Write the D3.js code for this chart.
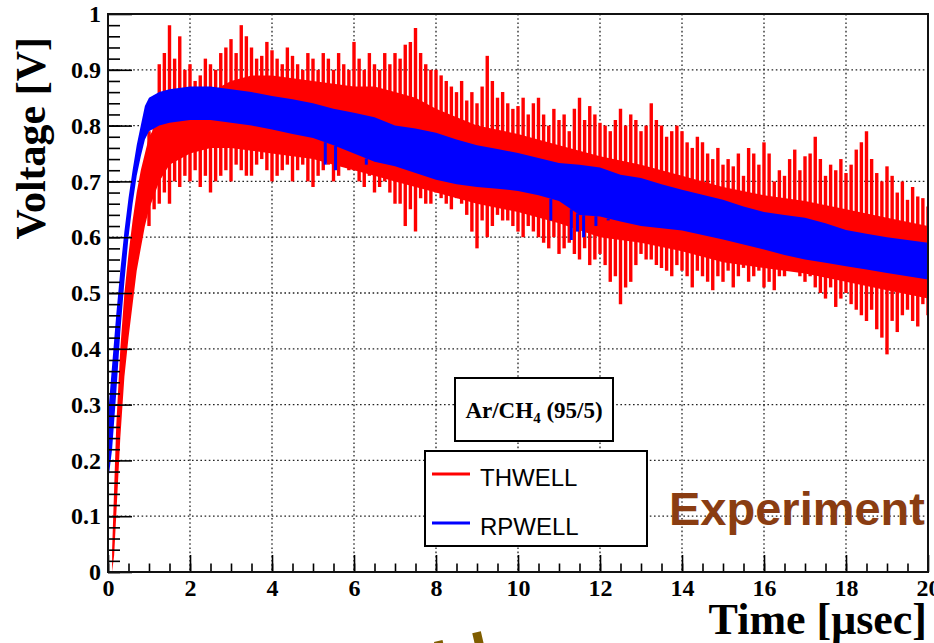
<!DOCTYPE html>
<html><head><meta charset="utf-8">
<script src="https://cdn.jsdelivr.net/npm/d3@7"></script>
<style>body{margin:0;background:#fff}svg{display:block}</style>
</head><body>
<svg id="c" width="934" height="643"></svg>
<script>
// ---------------- data ----------------
const xTicks = [0, 2, 4, 6, 8, 10, 12, 14, 16, 18, 20];
const yTicks = [0, 0.1, 0.2, 0.3, 0.4, 0.5, 0.6, 0.7, 0.8, 0.9, 1];

// RPWELL (blue) band: time, lower and upper edge
const blueT  = [0, 0.1, 0.2, 0.3, 0.4, 0.5, 0.6, 0.7, 0.8, 0.9, 1.0, 1.25, 1.5, 2.0, 2.5, 3.0, 3.5, 4.0, 4.5, 5.0, 5.5, 6.0, 6.5, 7.0, 7.5, 8.0, 8.5, 9.0, 9.5, 10.0, 10.5, 11.0, 11.5, 12.0, 12.5, 13.0, 13.5, 14.0, 14.5, 15.0, 15.5, 16.0, 16.5, 17.0, 17.5, 18.0, 18.5, 19.0, 19.5, 20.0];
const blueLo = [0.16, 0.22, 0.32, 0.43, 0.52, 0.60, 0.66, 0.71, 0.745, 0.775, 0.79, 0.80, 0.805, 0.81, 0.81, 0.805, 0.80, 0.793, 0.785, 0.778, 0.765, 0.75, 0.735, 0.727, 0.715, 0.703, 0.695, 0.69, 0.687, 0.683, 0.675, 0.665, 0.64, 0.637, 0.628, 0.62, 0.616, 0.612, 0.604, 0.596, 0.587, 0.578, 0.568, 0.56, 0.554, 0.548, 0.542, 0.536, 0.53, 0.524];
const blueHi = [0.28, 0.37, 0.46, 0.54, 0.61, 0.67, 0.72, 0.765, 0.80, 0.835, 0.85, 0.86, 0.865, 0.87, 0.87, 0.865, 0.86, 0.853, 0.847, 0.84, 0.83, 0.823, 0.815, 0.80, 0.795, 0.787, 0.775, 0.765, 0.758, 0.751, 0.742, 0.733, 0.73, 0.725, 0.712, 0.706, 0.695, 0.685, 0.676, 0.667, 0.655, 0.645, 0.64, 0.635, 0.625, 0.613, 0.606, 0.60, 0.595, 0.59];
// occasional downward blue excursions
const blueSpikeT  = [5.3, 5.55, 6.3, 10.8, 11.3, 11.45, 11.6, 11.9, 12.2];
const blueSpikeLo = [0.73, 0.72, 0.73, 0.63, 0.595, 0.61, 0.60, 0.62, 0.63];

// THWELL (red) dense core band
const redCoreT  = [0.10, 0.15, 0.2, 0.25, 0.3, 0.4, 0.5, 0.6, 0.7, 0.8, 0.9, 1.0, 1.25, 1.5, 2.0, 2.5, 3.0, 3.5, 4.0, 4.5, 5.0, 5.5, 6.0, 6.5, 7.0, 7.5, 8.0, 9.0, 10.0, 11.0, 12.0, 13.0, 14.0, 15.0, 16.0, 17.0, 18.0, 19.0, 20.0];
const redCoreLo = [0.00, 0.03, 0.10, 0.17, 0.24, 0.35, 0.42, 0.48, 0.54, 0.58, 0.62, 0.65, 0.70, 0.73, 0.75, 0.76, 0.76, 0.755, 0.75, 0.745, 0.74, 0.73, 0.72, 0.71, 0.70, 0.69, 0.68, 0.66, 0.645, 0.625, 0.60, 0.59, 0.575, 0.555, 0.545, 0.535, 0.52, 0.505, 0.49];
const redCoreHi = [0.04, 0.15, 0.26, 0.33, 0.40, 0.50, 0.57, 0.63, 0.68, 0.72, 0.75, 0.78, 0.81, 0.83, 0.85, 0.86, 0.88, 0.89, 0.89, 0.885, 0.88, 0.875, 0.87, 0.87, 0.86, 0.85, 0.83, 0.80, 0.785, 0.765, 0.745, 0.73, 0.71, 0.69, 0.675, 0.665, 0.65, 0.635, 0.62];

// THWELL (red) scatter extremes, main spikes
const spikeT  = [1.0, 1.25, 1.5, 1.75, 2.0, 2.25, 2.5, 2.75, 3.0, 3.25, 3.5, 3.75, 4.0, 4.25, 4.5, 4.75, 5.0, 5.25, 5.5, 5.75, 6.0, 6.25, 6.5, 6.75, 7.0, 7.25, 7.5, 7.75, 8.0, 8.25, 8.5, 8.75, 9.0, 9.25, 9.5, 9.75, 10.0, 10.25, 10.5, 10.75, 11.0, 11.25, 11.5, 11.75, 12.0, 12.25, 12.5, 12.75, 13.0, 13.25, 13.5, 13.75, 14.0, 14.25, 14.5, 14.75, 15.0, 15.25, 15.5, 15.75, 16.0, 16.25, 16.5, 16.75, 17.0, 17.25, 17.5, 17.75, 18.0, 18.25, 18.5, 18.75, 19.0, 19.25, 19.5, 19.75, 20.0];
const spikeHi = [0.79, 0.91, 0.98, 0.96, 0.91, 0.89, 0.91, 0.93, 0.955, 0.98, 0.94, 0.925, 0.935, 0.91, 0.925, 0.90, 0.92, 0.93, 0.90, 0.91, 0.95, 0.90, 0.91, 0.93, 0.93, 0.945, 0.975, 0.91, 0.90, 0.88, 0.86, 0.845, 0.84, 0.925, 0.85, 0.84, 0.835, 0.82, 0.85, 0.80, 0.81, 0.79, 0.85, 0.835, 0.805, 0.79, 0.83, 0.82, 0.79, 0.84, 0.80, 0.79, 0.79, 0.76, 0.77, 0.74, 0.73, 0.727, 0.71, 0.75, 0.77, 0.70, 0.71, 0.757, 0.745, 0.78, 0.71, 0.72, 0.715, 0.757, 0.79, 0.715, 0.727, 0.68, 0.667, 0.673, 0.655];
const spikeLo = [0.62, 0.66, 0.66, 0.69, 0.70, 0.69, 0.68, 0.71, 0.70, 0.72, 0.71, 0.74, 0.70, 0.72, 0.70, 0.73, 0.69, 0.72, 0.70, 0.74, 0.72, 0.69, 0.68, 0.70, 0.66, 0.62, 0.61, 0.66, 0.68, 0.66, 0.67, 0.64, 0.58, 0.60, 0.64, 0.63, 0.61, 0.62, 0.60, 0.58, 0.57, 0.59, 0.56, 0.55, 0.57, 0.52, 0.48, 0.52, 0.57, 0.56, 0.545, 0.53, 0.54, 0.51, 0.53, 0.505, 0.52, 0.51, 0.545, 0.53, 0.51, 0.505, 0.53, 0.55, 0.52, 0.51, 0.49, 0.475, 0.50, 0.47, 0.45, 0.435, 0.39, 0.43, 0.47, 0.44, 0.46];

// THWELL (red) scatter, in-between spikes
const spike2T  = [1.125, 1.375, 1.625, 1.875, 2.125, 2.375, 2.625, 2.875, 3.125, 3.375, 3.625, 3.875, 4.125, 4.375, 4.625, 4.875, 5.125, 5.375, 5.625, 5.875, 6.125, 6.375, 6.625, 6.875, 7.125, 7.375, 7.625, 7.875, 8.125, 8.375, 8.625, 8.875, 9.125, 9.375, 9.625, 9.875, 10.125, 10.375, 10.625, 10.875, 11.125, 11.375, 11.625, 11.875, 12.125, 12.375, 12.625, 12.875, 13.125, 13.375, 13.625, 13.875, 14.125, 14.375, 14.625, 14.875, 15.125, 15.375, 15.625, 15.875, 16.125, 16.375, 16.625, 16.875, 17.125, 17.375, 17.625, 17.875, 18.125, 18.375, 18.625, 18.875, 19.125, 19.375, 19.625, 19.875];
const spike2Hi = [0.85, 0.93, 0.92, 0.90, 0.88, 0.92, 0.90, 0.94, 0.93, 0.96, 0.92, 0.95, 0.92, 0.94, 0.91, 0.93, 0.90, 0.92, 0.93, 0.90, 0.92, 0.93, 0.90, 0.91, 0.92, 0.95, 0.93, 0.90, 0.89, 0.87, 0.88, 0.86, 0.87, 0.88, 0.86, 0.83, 0.85, 0.84, 0.82, 0.83, 0.82, 0.83, 0.81, 0.82, 0.80, 0.81, 0.80, 0.81, 0.80, 0.81, 0.78, 0.80, 0.77, 0.78, 0.75, 0.76, 0.74, 0.75, 0.76, 0.73, 0.75, 0.72, 0.74, 0.72, 0.75, 0.74, 0.73, 0.74, 0.73, 0.77, 0.74, 0.70, 0.71, 0.70, 0.69, 0.67];
const spike2Lo = [0.65, 0.68, 0.70, 0.71, 0.72, 0.71, 0.70, 0.72, 0.73, 0.71, 0.73, 0.72, 0.71, 0.73, 0.72, 0.70, 0.71, 0.73, 0.71, 0.72, 0.70, 0.71, 0.69, 0.68, 0.66, 0.65, 0.67, 0.66, 0.67, 0.65, 0.66, 0.61, 0.63, 0.62, 0.63, 0.62, 0.60, 0.61, 0.59, 0.60, 0.58, 0.57, 0.58, 0.56, 0.55, 0.53, 0.51, 0.55, 0.56, 0.55, 0.54, 0.55, 0.53, 0.54, 0.52, 0.53, 0.54, 0.53, 0.52, 0.54, 0.52, 0.53, 0.54, 0.53, 0.53, 0.50, 0.51, 0.49, 0.48, 0.46, 0.47, 0.42, 0.45, 0.46, 0.45, 0.48];

const seriesNames = ["THWELL", "RPWELL"];
const seriesColors = ["#ff0000", "#0000ff"];

// ---------------- drawing ----------------
const svg = d3.select("#c");
const L = 108, R = 928, T = 14, B = 572;
const x = d3.scaleLinear().domain([0, 20]).range([L, R]);
const y = d3.scaleLinear().domain([0, 1]).range([B, T]);
const serif = "'Liberation Serif','Times New Roman',serif";
const sans = "'Liberation Sans',Arial,Helvetica,sans-serif";

svg.append("rect").attr("width", 934).attr("height", 643).attr("fill", "#fff");

svg.append("clipPath").attr("id", "clip").append("rect")
  .attr("x", L).attr("y", T).attr("width", R - L).attr("height", B - T);

// grid
const grid = svg.append("g").attr("stroke", "#222").attr("stroke-width", 1.3)
  .attr("stroke-dasharray", "1.6,2.6");
grid.selectAll("line.v").data(xTicks.slice(1, -1)).join("line")
  .attr("x1", d => x(d)).attr("x2", d => x(d)).attr("y1", T).attr("y2", B);
grid.selectAll("line.h").data(yTicks.slice(1, -1)).join("line").attr("class", "h")
  .attr("x1", L).attr("x2", R).attr("y1", d => y(d)).attr("y2", d => y(d));

// data
const plot = svg.append("g").attr("clip-path", "url(#clip)");
const redCore = redCoreT.map((t, i) => ({t, lo: redCoreLo[i], hi: redCoreHi[i]}));
plot.append("path").datum(redCore)
  .attr("fill", seriesColors[0])
  .attr("d", d3.area().x(d => x(d.t)).y0(d => y(d.lo)).y1(d => y(d.hi)));
const spikes = spikeT.map((t, i) => ({t, lo: spikeLo[i], hi: spikeHi[i]}))
  .concat(spike2T.map((t, i) => ({t, lo: spike2Lo[i], hi: spike2Hi[i]})));
plot.append("g").attr("stroke", seriesColors[0]).attr("stroke-width", 3.4)
  .selectAll("line").data(spikes).join("line")
  .attr("x1", d => x(d.t)).attr("x2", d => x(d.t))
  .attr("y1", d => y(d.lo)).attr("y2", d => y(d.hi));

const blue = blueT.map((t, i) => ({t, lo: blueLo[i], hi: blueHi[i]}));
plot.append("path").datum(blue)
  .attr("fill", seriesColors[1])
  .attr("d", d3.area().x(d => x(d.t)).y0(d => y(d.lo)).y1(d => y(d.hi)));
const blueLoAt = d3.scaleLinear().domain(blueT).range(blueLo);
plot.append("g").attr("stroke", seriesColors[1]).attr("stroke-width", 3)
  .selectAll("line").data(blueSpikeT.map((t, i) => ({t, lo: blueSpikeLo[i]}))).join("line")
  .attr("x1", d => x(d.t)).attr("x2", d => x(d.t))
  .attr("y1", d => y(d.lo)).attr("y2", d => y(blueLoAt(d.t)));

// axes
function styleAxis(g) {
  g.select(".domain").remove();
  g.selectAll(".tick line").attr("stroke", "#000").attr("stroke-width", 1.6);
  g.selectAll(".tick text").attr("font-family", serif).attr("font-weight", "bold")
    .attr("font-size", 24).attr("fill", "#000");
}
const yMinor = d3.range(0, 50).map(i => i / 50);
const xMinor = d3.range(0, 40).map(i => i / 2);
svg.append("g").attr("transform", `translate(${L},0)`)
  .call(d3.axisLeft(y).tickValues(yMinor).tickSize(-12).tickFormat(""))
  .call(styleAxis);
svg.append("g").attr("transform", `translate(${L},0)`)
  .call(d3.axisLeft(y).tickValues(yTicks).tickSize(-24).tickPadding(7)
    .tickFormat(d => d === 0 ? "0" : d === 1 ? "1" : d3.format(".1f")(d)))
  .call(styleAxis);
svg.append("g").attr("transform", `translate(0,${B})`)
  .call(d3.axisBottom(x).tickValues(xMinor).tickSize(-8.5).tickFormat(""))
  .call(styleAxis);
svg.append("g").attr("transform", `translate(0,${B})`)
  .call(d3.axisBottom(x).tickValues(xTicks).tickSize(-17).tickPadding(7)
    .tickFormat(d3.format("d")))
  .call(styleAxis);

// frame
svg.append("rect").attr("x", L).attr("y", T).attr("width", R - L).attr("height", B - T)
  .attr("fill", "none").attr("stroke", "#111").attr("stroke-width", 2);

// axis titles
svg.append("text").attr("transform", "translate(45,37) rotate(-90)")
  .attr("text-anchor", "end").attr("font-family", serif).attr("font-weight", "bold")
  .attr("font-size", 42).text("Voltage [V]");
svg.append("text").attr("x", 927).attr("y", 634)
  .attr("text-anchor", "end").attr("font-family", serif).attr("font-weight", "bold")
  .attr("font-size", 44).text("Time [\u03bcsec]");

// gas label box
svg.append("rect").attr("x", 455).attr("y", 378).attr("width", 158).attr("height", 63)
  .attr("fill", "#fff").attr("stroke", "#000").attr("stroke-width", 2);
const gas = svg.append("text").attr("x", 534).attr("y", 418).attr("text-anchor", "middle")
  .attr("font-family", serif).attr("font-weight", "bold").attr("font-size", 23);
gas.append("tspan").text("Ar/CH");
gas.append("tspan").attr("font-size", 15).attr("dy", 5).text("4");
gas.append("tspan").attr("dy", -5).text(" (95/5)");

// legend
svg.append("rect").attr("x", 425).attr("y", 451).attr("width", 222).attr("height", 95)
  .attr("fill", "#fff").attr("stroke", "#000").attr("stroke-width", 2);
const leg = svg.append("g").selectAll("g").data(seriesNames).join("g")
  .attr("transform", (d, i) => `translate(0,${474 + i * 49})`);
leg.append("line").attr("x1", 432).attr("x2", 470).attr("y1", 0).attr("y2", 0)
  .attr("stroke", (d, i) => seriesColors[i]).attr("stroke-width", 3);
leg.append("text").attr("x", 480).attr("y", 12).attr("font-family", sans)
  .attr("font-size", 24).attr("fill", "#000").text(d => d);

// annotation
svg.append("text").attr("x", 669).attr("y", 525).attr("font-family", sans)
  .attr("font-weight", "bold").attr("font-size", 47).attr("fill", "#8a3d12").text("Experiment");
svg.append("text").attr("transform", "translate(350,709) rotate(-13)")
  .attr("font-family", sans).attr("font-weight", "bold").attr("font-size", 64)
  .attr("fill", "#7f5d00").text("Field");
</script>
</body></html>
